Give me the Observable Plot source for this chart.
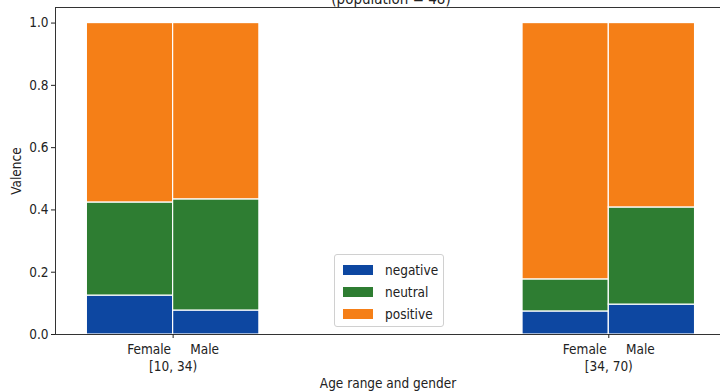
<!DOCTYPE html>
<html>
<head>
<meta charset="utf-8">
<script src="https://cdn.jsdelivr.net/npm/d3@7"></script>
<script src="https://cdn.jsdelivr.net/npm/@observablehq/plot@0.6"></script>
<style>
  body { margin: 0; background: white; }
  #wrap { position: relative; width: 721px; height: 392px; overflow: hidden; }
  #legend { position: absolute; left: 334px; top: 254px; width: 108px; height: 71px;
    border: 1px solid #d0d0d0; border-radius: 3px; background: rgba(255,255,255,0.9);
    font-family: "DejaVu Sans Condensed", "DejaVu Sans", sans-serif; font-size: 13.5px; color: #222; }
  .row { position: absolute; left: 8px; height: 12px; display: flex; align-items: center; }
  .sw { width: 30px; height: 10px; margin-right: 12px; }
</style>
</head>
<body>
<div id="wrap"><div id="legend"></div></div>
<script>
const ageGroups = ["[10, 34)", "[34, 70)"];
const genders = ["Female", "Male"];
const valences = ["negative", "neutral", "positive"];
const colors = ["#0D47A1", "#2E7D32", "#F57F17"];
// bars in order: [10,34) Female, [10,34) Male, [34,70) Female, [34,70) Male
const negative = [0.125, 0.077, 0.074, 0.096];
const neutral  = [0.299, 0.357, 0.103, 0.312];
const positive = [0.576, 0.566, 0.823, 0.592];
const title = "(population = 48)";

const barW = 0.198;
const series = [negative, neutral, positive];
const rows = [];
for (let i = 0; i < 4; i++) {
  const g = Math.floor(i / 2), s = i % 2;
  let base = 0;
  series.forEach((vals, k) => {
    rows.push({x1: g + (s - 1) * barW, x2: g + s * barW, y1: base, y2: base + vals[i], valence: valences[k]});
    base += vals[i];
  });
}

const font = "DejaVu Sans Condensed, DejaVu Sans, sans-serif";
const chart = Plot.plot({
  width: 721, height: 392,
  marginLeft: 55, marginRight: 1, marginTop: 7, marginBottom: 58,
  style: {fontFamily: font, fontSize: "13.5px", color: "#222", background: "white"},
  x: {type: "linear", domain: [-0.27, 1.2564]},
  y: {domain: [0, 1.05]},
  color: {domain: valences, range: colors},
  marks: [
    Plot.rect(rows, {x1: "x1", x2: "x2", y1: "y1", y2: "y2", fill: "valence", stroke: "white", strokeWidth: 1.2}),
    Plot.ruleY([0, 1.05], {stroke: "#333", strokeWidth: 1}),
    Plot.ruleX([-0.27], {stroke: "#333", strokeWidth: 1}),
    Plot.axisY({ticks: [0, 0.2, 0.4, 0.6, 0.8, 1.0], tickFormat: d => d.toFixed(1), tickSize: 4, tickPadding: 3,
      label: "Valence", labelAnchor: "center", labelArrow: "none", labelOffset: 44, fontSize: 13.5}),
    Plot.axisX({ticks: [0, 1], tickFormat: i => `${genders[0]}     ${genders[1]}\n${ageGroups[i]}`, tickSize: 4, tickPadding: 4,
      fontSize: 13.5, lineHeight: 1.25, label: "Age range and gender", labelAnchor: "center", labelArrow: "none", labelOffset: 53}),
    Plot.text([title], {frameAnchor: "top", lineAnchor: "bottom", dy: -4, dx: 3, fontSize: 15, fill: "#222"})
  ]
});
const wrap = document.getElementById("wrap");
wrap.insertBefore(chart, wrap.firstChild);

const legend = document.getElementById("legend");
valences.forEach((v, k) => {
  const r = document.createElement("div");
  r.className = "row";
  r.style.top = (9 + k * 22) + "px";
  r.innerHTML = `<div class="sw" style="background:${colors[k]}"></div><span>${v}</span>`;
  legend.appendChild(r);
});
</script>
</body>
</html>
